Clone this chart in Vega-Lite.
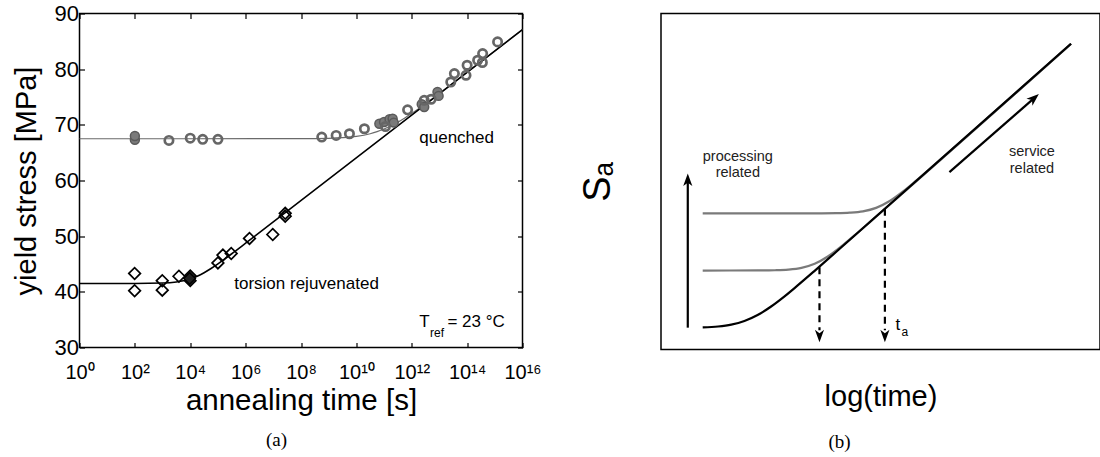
{
  "$schema": "https://vega.github.io/schema/vega-lite/v6.json",
  "background": "white",
  "padding": {"left": 10.5, "top": 1.5, "right": 0, "bottom": 0},
  "bounds": "flush",
  "spacing": 138.5,
  "config": {
    "view": {"stroke": "black", "strokeWidth": 1.5},
    "font": "Liberation Sans",
    "axis": {"grid": false, "domain": false, "labelColor": "black", "titleColor": "black", "tickColor": "black"}
  },
  "datasets": {
    "qfit": [
      {"t": 1, "s": 67.5}, {"t": 1e8, "s": 67.51}, {"t": 1e9, "s": 67.58}, {"t": 3.162e9, "s": 67.69},
      {"t": 1e10, "s": 67.92}, {"t": 3.162e10, "s": 68.4}, {"t": 5.623e10, "s": 68.77}, {"t": 1e11, "s": 69.24},
      {"t": 1.778e11, "s": 69.82}, {"t": 3.162e11, "s": 70.49}, {"t": 5.623e11, "s": 71.24}, {"t": 1e12, "s": 72.06},
      {"t": 3.162e12, "s": 73.81}, {"t": 1e13, "s": 75.65}, {"t": 1e14, "s": 79.45}, {"t": 1e15, "s": 83.28},
      {"t": 1e16, "s": 87.12}
    ],
    "tfit": [
      {"t": 1, "s": 41.5}, {"t": 100, "s": 41.5}, {"t": 1000, "s": 41.58}, {"t": 3162, "s": 41.78},
      {"t": 5623, "s": 41.99}, {"t": 1e4, "s": 42.33}, {"t": 1.778e4, "s": 42.81}, {"t": 3.162e4, "s": 43.44},
      {"t": 5.623e4, "s": 44.19}, {"t": 1e5, "s": 45.03}, {"t": 1.778e5, "s": 45.92}, {"t": 3.162e5, "s": 46.84},
      {"t": 1e6, "s": 48.73}, {"t": 1e16, "s": 87.12}
    ],
    "qopen": [
      {"t": 1700, "s": 67.2}, {"t": 1e4, "s": 67.6}, {"t": 2.82e4, "s": 67.4}, {"t": 1e5, "s": 67.4},
      {"t": 5.62e8, "s": 67.8}, {"t": 1.86e9, "s": 68.1}, {"t": 5.62e9, "s": 68.4}, {"t": 1.95e10, "s": 69.3},
      {"t": 1.12e11, "s": 69.7}, {"t": 7.08e11, "s": 72.7}, {"t": 2.82e12, "s": 74.4}, {"t": 5.01e12, "s": 74.6},
      {"t": 2.57e13, "s": 77.7}, {"t": 3.47e13, "s": 79.2}, {"t": 9.12e13, "s": 78.9}, {"t": 1e14, "s": 80.7},
      {"t": 2.4e14, "s": 81.6}, {"t": 3.63e14, "s": 82.8}, {"t": 3.55e14, "s": 81.2}, {"t": 1.26e15, "s": 84.9}
    ],
    "qsolid": [
      {"t": 100, "s": 67.3}, {"t": 100, "s": 68.0}, {"t": 6.76e10, "s": 70.2}, {"t": 1e11, "s": 70.5},
      {"t": 1.58e11, "s": 71.0}, {"t": 2.04e11, "s": 71.1}, {"t": 2.24e11, "s": 70.4}, {"t": 2.29e12, "s": 73.7},
      {"t": 2.82e12, "s": 73.2}, {"t": 8.51e12, "s": 75.9}, {"t": 9.33e12, "s": 75.2}
    ],
    "topen": [
      {"t": 98, "s": 43.3}, {"t": 98, "s": 40.2}, {"t": 977, "s": 42.0}, {"t": 977, "s": 40.3},
      {"t": 3900, "s": 42.8}, {"t": 1e5, "s": 45.2}, {"t": 1.51e5, "s": 46.6}, {"t": 3.02e5, "s": 46.9},
      {"t": 1.38e6, "s": 49.6}, {"t": 9.55e6, "s": 50.3}, {"t": 2.69e7, "s": 54.1}, {"t": 2.69e7, "s": 53.6}
    ],
    "tsolid": [
      {"t": 1e4, "s": 42.9}, {"t": 1e4, "s": 42.0}, {"t": 9500, "s": 42.4}
    ],
    "leftText": [
      {"t": 4.17e13, "s": 67.6, "label": "quenched"},
      {"t": 1.585e8, "s": 41.4, "label": "torsion rejuvenated"}
    ],
    "tref": [
      {"t": 1.862e12, "s": 33.6, "label": "T"},
      {"t": 1.95e13, "s": 33.6, "label": "= 23 °C"}
    ],
    "trefSub": [
      {"t": 4.6e12, "s": 31.9, "label": "ref"}
    ],
    "master": [
      {"u": 9.5, "v": 6.57}, {"u": 13, "v": 6.85}, {"u": 16, "v": 7.4}, {"u": 19, "v": 8.47},
      {"u": 22, "v": 10.25}, {"u": 25, "v": 12.72}, {"u": 28, "v": 15.67}, {"u": 31, "v": 18.92},
      {"u": 35, "v": 23.42}, {"u": 40, "v": 29.16}, {"u": 93.4, "v": 91.0}
    ],
    "upper": [
      {"u": 9.5, "v": 40.5}, {"u": 35, "v": 40.51}, {"u": 40, "v": 40.57}, {"u": 43, "v": 40.71},
      {"u": 46, "v": 41.12}, {"u": 49, "v": 42.15}, {"u": 52, "v": 44.12}, {"u": 55, "v": 46.91},
      {"u": 58, "v": 50.12}, {"u": 62, "v": 54.65}, {"u": 93.4, "v": 91.0}
    ],
    "middle": [
      {"u": 9.5, "v": 23.5}, {"u": 22, "v": 23.52}, {"u": 26, "v": 23.59}, {"u": 29, "v": 23.77},
      {"u": 32, "v": 24.29}, {"u": 35, "v": 25.51}, {"u": 38, "v": 27.69}, {"u": 41, "v": 30.61},
      {"u": 44, "v": 33.89}, {"u": 48, "v": 38.42}, {"u": 93.4, "v": 91.0}
    ],
    "solidArrows": [
      {"u": 6.1, "v": 6.5, "u2": 6.1, "v2": 50.5},
      {"u": 65.7, "v": 52.8, "u2": 85.0, "v2": 74.8}
    ],
    "dashArrows": [
      {"u": 36.1, "v": 24.5, "u2": 36.1, "v2": 5.7},
      {"u": 51.0, "v": 41.9, "u2": 51.0, "v2": 5.7}
    ],
    "headsUp": [
      {"u": 6.1, "v": 50.5, "angle": 0},
      {"u": 85.0, "v": 74.8, "angle": 49}
    ],
    "headsDown": [
      {"u": 36.1, "v": 4.0},
      {"u": 51.0, "v": 4.0}
    ],
    "rightText": [
      {"u": 17.5, "v": 57.4, "label": "processing"},
      {"u": 17.5, "v": 52.5, "label": "related"},
      {"u": 84.5, "v": 58.7, "label": "service"},
      {"u": 84.5, "v": 53.8, "label": "related"}
    ],
    "tMain": [{"u": 53.4, "v": 5.95, "label": "t"}],
    "tSub": [{"u": 54.8, "v": 4.0, "label": "a"}]
  },
  "hconcat": [
    {
      "width": 443,
      "height": 334,
      "title": {"text": "(a)", "orient": "bottom", "anchor": "middle", "frame": "bounds", "font": "Liberation Serif", "fontSize": 19, "fontWeight": "normal", "color": "black", "offset": 16},
      "resolve": {"axis": {"x": "independent", "y": "independent"}},
      "layer": [
        {
          "data": {"name": "qfit"},
          "mark": {"type": "line", "color": "#6a6a6a", "strokeWidth": 1.2, "interpolate": "monotone"},
          "encoding": {
            "x": {"field": "t", "type": "quantitative", "scale": {"type": "log", "domain": [1, 1e16], "nice": false},
              "axis": {"orient": "bottom", "values": [1, 1e2, 1e4, 1e6, 1e8, 1e10, 1e12, 1e14, 1e16],
                "labelExpr": "'10' + replace(replace(replace(replace(replace(replace('' + round(log(datum.value)/LN10), '1', '¹'), '0', '⁰'), '2', '²'), '4', '⁴'), '6', '⁶'), '8', '⁸')",
                "labelFont": "Liberation Sans", "labelFontSize": 20, "labelPadding": 20, "labelFlush": false, "labelOverlap": false,
                "tickSize": -5, "tickWidth": 1.2,
                "title": "annealing time [s]", "titleFont": "Liberation Sans", "titleFontSize": 29.5, "titleFontWeight": "normal", "titlePadding": 4}},
            "y": {"field": "s", "type": "quantitative", "scale": {"domain": [30, 90], "nice": false, "zero": false},
              "axis": {"orient": "left", "values": [30, 40, 50, 60, 70, 80, 90],
                "labelFont": "Liberation Sans", "labelFontSize": 22, "labelPadding": 6, "labelOverlap": false, "labelFlush": false,
                "tickSize": -5, "tickWidth": 1.2,
                "title": "yield stress [MPa]", "titleFont": "Liberation Sans", "titleFontSize": 29, "titleFontWeight": "normal", "titlePadding": 13}}
          }
        },
        {
          "data": {"name": "tfit"},
          "mark": {"type": "line", "color": "black", "strokeWidth": 1.6, "interpolate": "monotone"},
          "encoding": {
            "x": {"field": "t", "type": "quantitative",
              "axis": {"orient": "top", "values": [1, 1e2, 1e4, 1e6, 1e8, 1e10, 1e12, 1e14, 1e16], "labels": false, "title": null, "tickSize": -5, "tickWidth": 1.2}},
            "y": {"field": "s", "type": "quantitative",
              "axis": {"orient": "right", "values": [30, 40, 50, 60, 70, 80, 90], "labels": false, "title": null, "tickSize": -5, "tickWidth": 1.2}}
          }
        },
        {
          "data": {"name": "qsolid"},
          "mark": {"type": "point", "shape": "circle", "filled": true, "color": "#7a7a7a", "stroke": "#5a5a5a", "strokeWidth": 1.5, "size": 80, "opacity": 1},
          "encoding": {
            "x": {"field": "t", "type": "quantitative", "axis": null},
            "y": {"field": "s", "type": "quantitative", "axis": null}
          }
        },
        {
          "data": {"name": "qopen"},
          "mark": {"type": "point", "shape": "circle", "filled": false, "color": "#666666", "strokeWidth": 2.7, "size": 70, "opacity": 1},
          "encoding": {
            "x": {"field": "t", "type": "quantitative", "axis": null},
            "y": {"field": "s", "type": "quantitative", "axis": null}
          }
        },
        {
          "data": {"name": "topen"},
          "mark": {"type": "point", "shape": "diamond", "filled": false, "color": "black", "strokeWidth": 1.7, "size": 135, "opacity": 1},
          "encoding": {
            "x": {"field": "t", "type": "quantitative", "axis": null},
            "y": {"field": "s", "type": "quantitative", "axis": null}
          }
        },
        {
          "data": {"name": "tsolid"},
          "mark": {"type": "point", "shape": "diamond", "filled": true, "color": "#222222", "stroke": "black", "strokeWidth": 1.4, "size": 135, "opacity": 1},
          "encoding": {
            "x": {"field": "t", "type": "quantitative", "axis": null},
            "y": {"field": "s", "type": "quantitative", "axis": null}
          }
        },
        {
          "data": {"name": "leftText"},
          "mark": {"type": "text", "font": "Liberation Sans", "fontSize": 17, "color": "black", "align": "center", "baseline": "middle"},
          "encoding": {
            "x": {"field": "t", "type": "quantitative", "axis": null},
            "y": {"field": "s", "type": "quantitative", "axis": null},
            "text": {"field": "label"}
          }
        },
        {
          "data": {"name": "tref"},
          "mark": {"type": "text", "font": "Liberation Sans", "fontSize": 17, "color": "black", "align": "left", "baseline": "alphabetic"},
          "encoding": {
            "x": {"field": "t", "type": "quantitative", "axis": null},
            "y": {"field": "s", "type": "quantitative", "axis": null},
            "text": {"field": "label"}
          }
        },
        {
          "data": {"name": "trefSub"},
          "mark": {"type": "text", "font": "Liberation Sans", "fontSize": 12, "color": "black", "align": "left", "baseline": "alphabetic"},
          "encoding": {
            "x": {"field": "t", "type": "quantitative", "axis": null},
            "y": {"field": "s", "type": "quantitative", "axis": null},
            "text": {"field": "label"}
          }
        }
      ]
    },
    {
      "width": 439,
      "height": 336,
      "title": {"text": "(b)", "orient": "bottom", "anchor": "middle", "frame": "bounds", "font": "Liberation Serif", "fontSize": 19, "fontWeight": "normal", "color": "black", "offset": 21},
      "encoding": {
        "x": {"field": "u", "type": "quantitative", "scale": {"domain": [0, 100], "nice": false, "zero": false},
          "axis": {"ticks": false, "labels": false, "domain": false, "title": "log(time)", "titleFont": "Liberation Sans", "titleFontSize": 29, "titleFontWeight": "normal", "titlePadding": 33}},
        "y": {"field": "v", "type": "quantitative", "scale": {"domain": [0, 100], "nice": false, "zero": false},
          "axis": {"ticks": false, "labels": false, "domain": false, "title": "Sₐ", "titleFont": "Liberation Sans, DejaVu Sans", "titleFontSize": 38, "titleFontWeight": "normal", "titlePadding": 44}}
      },
      "layer": [
        {
          "data": {"name": "upper"},
          "mark": {"type": "line", "color": "#7a7a7a", "strokeWidth": 2.2, "interpolate": "monotone"}
        },
        {
          "data": {"name": "middle"},
          "mark": {"type": "line", "color": "#7a7a7a", "strokeWidth": 2.2, "interpolate": "monotone"}
        },
        {
          "data": {"name": "master"},
          "mark": {"type": "line", "color": "black", "strokeWidth": 2.2, "interpolate": "monotone"}
        },
        {
          "data": {"name": "solidArrows"},
          "mark": {"type": "rule", "color": "black", "strokeWidth": 2.2},
          "encoding": {"x2": {"field": "u2"}, "y2": {"field": "v2"}}
        },
        {
          "data": {"name": "dashArrows"},
          "mark": {"type": "rule", "color": "black", "strokeWidth": 2.2, "strokeDash": [7, 5]},
          "encoding": {"x2": {"field": "u2"}, "y2": {"field": "v2"}}
        },
        {
          "data": {"name": "headsUp"},
          "mark": {"type": "point", "shape": "M0,-1.1L0.8,1.1L0,0.5L-0.8,1.1Z", "filled": true, "color": "black", "size": 130, "opacity": 1},
          "encoding": {"angle": {"field": "angle", "type": "quantitative", "scale": null}}
        },
        {
          "data": {"name": "headsDown"},
          "mark": {"type": "point", "shape": "M0,1.1L0.8,-1.1L0,-0.5L-0.8,-1.1Z", "filled": true, "color": "black", "size": 130, "opacity": 1}
        },
        {
          "data": {"name": "rightText"},
          "mark": {"type": "text", "font": "Liberation Sans", "fontSize": 14.5, "color": "#222222", "align": "center", "baseline": "middle"},
          "encoding": {"text": {"field": "label"}}
        },
        {
          "data": {"name": "tMain"},
          "mark": {"type": "text", "font": "Liberation Sans", "fontSize": 17, "color": "black", "align": "left", "baseline": "alphabetic"},
          "encoding": {"text": {"field": "label"}}
        },
        {
          "data": {"name": "tSub"},
          "mark": {"type": "text", "font": "Liberation Sans", "fontSize": 12, "color": "black", "align": "left", "baseline": "alphabetic"},
          "encoding": {"text": {"field": "label"}}
        }
      ]
    }
  ]
}
